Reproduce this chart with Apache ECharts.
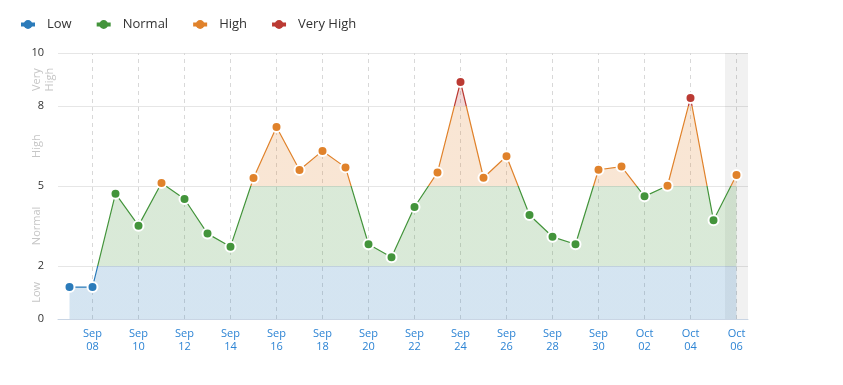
<!DOCTYPE html>
<html>
<head>
<meta charset="utf-8">
<script src="https://cdn.jsdelivr.net/npm/echarts@6/dist/echarts.min.js"></script>
<style>
html,body{margin:0;padding:0;background:#fff;}
#chart{width:843px;height:385px;}
</style>
</head>
<body>
<div id="chart"></div>
<script>
// ---- data ----
const categories = ['Sep\n07','Sep\n08','Sep\n09','Sep\n10','Sep\n11','Sep\n12','Sep\n13','Sep\n14','Sep\n15','Sep\n16',
  'Sep\n17','Sep\n18','Sep\n19','Sep\n20','Sep\n21','Sep\n22','Sep\n23','Sep\n24','Sep\n25','Sep\n26',
  'Sep\n27','Sep\n28','Sep\n29','Sep\n30','Oct\n01','Oct\n02','Oct\n03','Oct\n04','Oct\n05','Oct\n06'];
const values = [1.2,1.2,4.71,3.51,5.11,4.51,3.21,2.72,5.30,7.22,
  5.60,6.32,5.70,2.81,2.32,4.21,5.51,8.91,5.31,6.12,
  3.91,3.09,2.81,5.61,5.73,4.61,5.01,8.31,3.71,5.41];
const yTicks = [0,2,5,8,10];
const levelNames = ['Low','Normal','High','Very High'];
const levelLabels = ['Low','Normal','High','Very\nHigh'];
const levelMids = [1,3.5,6.5,9];
const levelBounds = [0,2,5,8,10];
const levelColors = ['#2b7bba','#43943b','#e0822b','#bb3a33'];
const highlightedCategory = 'Oct\n06';

const chart = echarts.init(document.getElementById('chart'));
const FONT = '"Open Sans", sans-serif';
const labelEvery = (i) => i % 2 === 1;

const pieces = levelNames.map((n, i) => {
  const p = { color: levelColors[i] };
  if (i > 0) p.gte = levelBounds[i];
  if (i < levelNames.length - 1) p.lt = levelBounds[i + 1];
  return p;
});

const bandData = categories.map(c => c === highlightedCategory ? 10 : '-');
const gridLineData = categories.filter((c, i) => labelEvery(i)).map(c => ({ xAxis: c }));

const legendSeries = levelNames.map((n, i) => ({
  name: n, type: 'line', data: [], symbol: 'circle',
  itemStyle: { color: levelColors[i], borderWidth: 0 },
  lineStyle: { color: levelColors[i], width: 4 }
}));

chart.setOption({
  animation: false,
  textStyle: { fontFamily: FONT },
  legend: {
    data: levelNames, left: 14, top: 13, itemWidth: 14, itemHeight: 11, itemGap: 23,
    lineStyle: { width: 4 },
    textStyle: { color: '#333', fontSize: 13, fontFamily: FONT, padding: [0,0,0,7] }
  },
  grid: { left: 58, right: 95, top: 53, bottom: 66 },
  xAxis: {
    type: 'category', data: categories, boundaryGap: true,
    axisLine: { lineStyle: { color: '#c9d5e4' } },
    axisTick: { alignWithLabel: true, interval: (i) => labelEvery(i), length: 5, lineStyle: { color: '#c9d5e4' } },
    axisLabel: { interval: (i) => labelEvery(i), color: '#2d84d4', fontSize: 11, lineHeight: 13, margin: 8, fontFamily: FONT },
    splitLine: { show: false }
  },
  yAxis: [{
    type: 'value', min: 0, max: 10, position: 'left',
    axisLine: { show: false },
    axisTick: { show: false, customValues: yTicks },
    axisLabel: { customValues: yTicks, color: '#333', fontSize: 11, margin: 14, fontFamily: FONT },
    splitLine: { show: true, lineStyle: { color: '#e6e6e6' } }
  }, {
    type: 'value', min: 0, max: 10, position: 'left', offset: 0,
    axisLine: { show: false },
    axisTick: { show: false, customValues: levelMids },
    splitLine: { show: false },
    axisLabel: {
      customValues: levelMids, rotate: 90, verticalAlign: 'top', align: 'center',
      color: '#c6c6c6', fontSize: 11, lineHeight: 13, margin: 28, fontFamily: FONT,
      formatter: (v) => { const k = levelMids.indexOf(v); return k >= 0 ? levelLabels[k] : ''; }
    }
  }],
  visualMap: {
    type: 'piecewise', show: false, dimension: 1, seriesIndex: 1, pieces: pieces
  },
  series: [{
    type: 'bar', data: bandData, barWidth: '100%', silent: true,
    itemStyle: { color: 'rgba(0,0,0,0.055)' }
  }, {
    type: 'line', data: values, symbol: 'circle', symbolSize: 10, showAllSymbol: true,
    itemStyle: { borderColor: '#fff', borderWidth: 2 },
    lineStyle: { width: 1.2 },
    areaStyle: { opacity: 0.2 },
    markLine: {
      silent: true, z: 1, symbol: ['none','none'], label: { show: false },
      lineStyle: { color: '#d8d8d8', type: [4,4], width: 1 },
      data: gridLineData
    }
  }].concat(legendSeries)
});
</script>
</body>
</html>
